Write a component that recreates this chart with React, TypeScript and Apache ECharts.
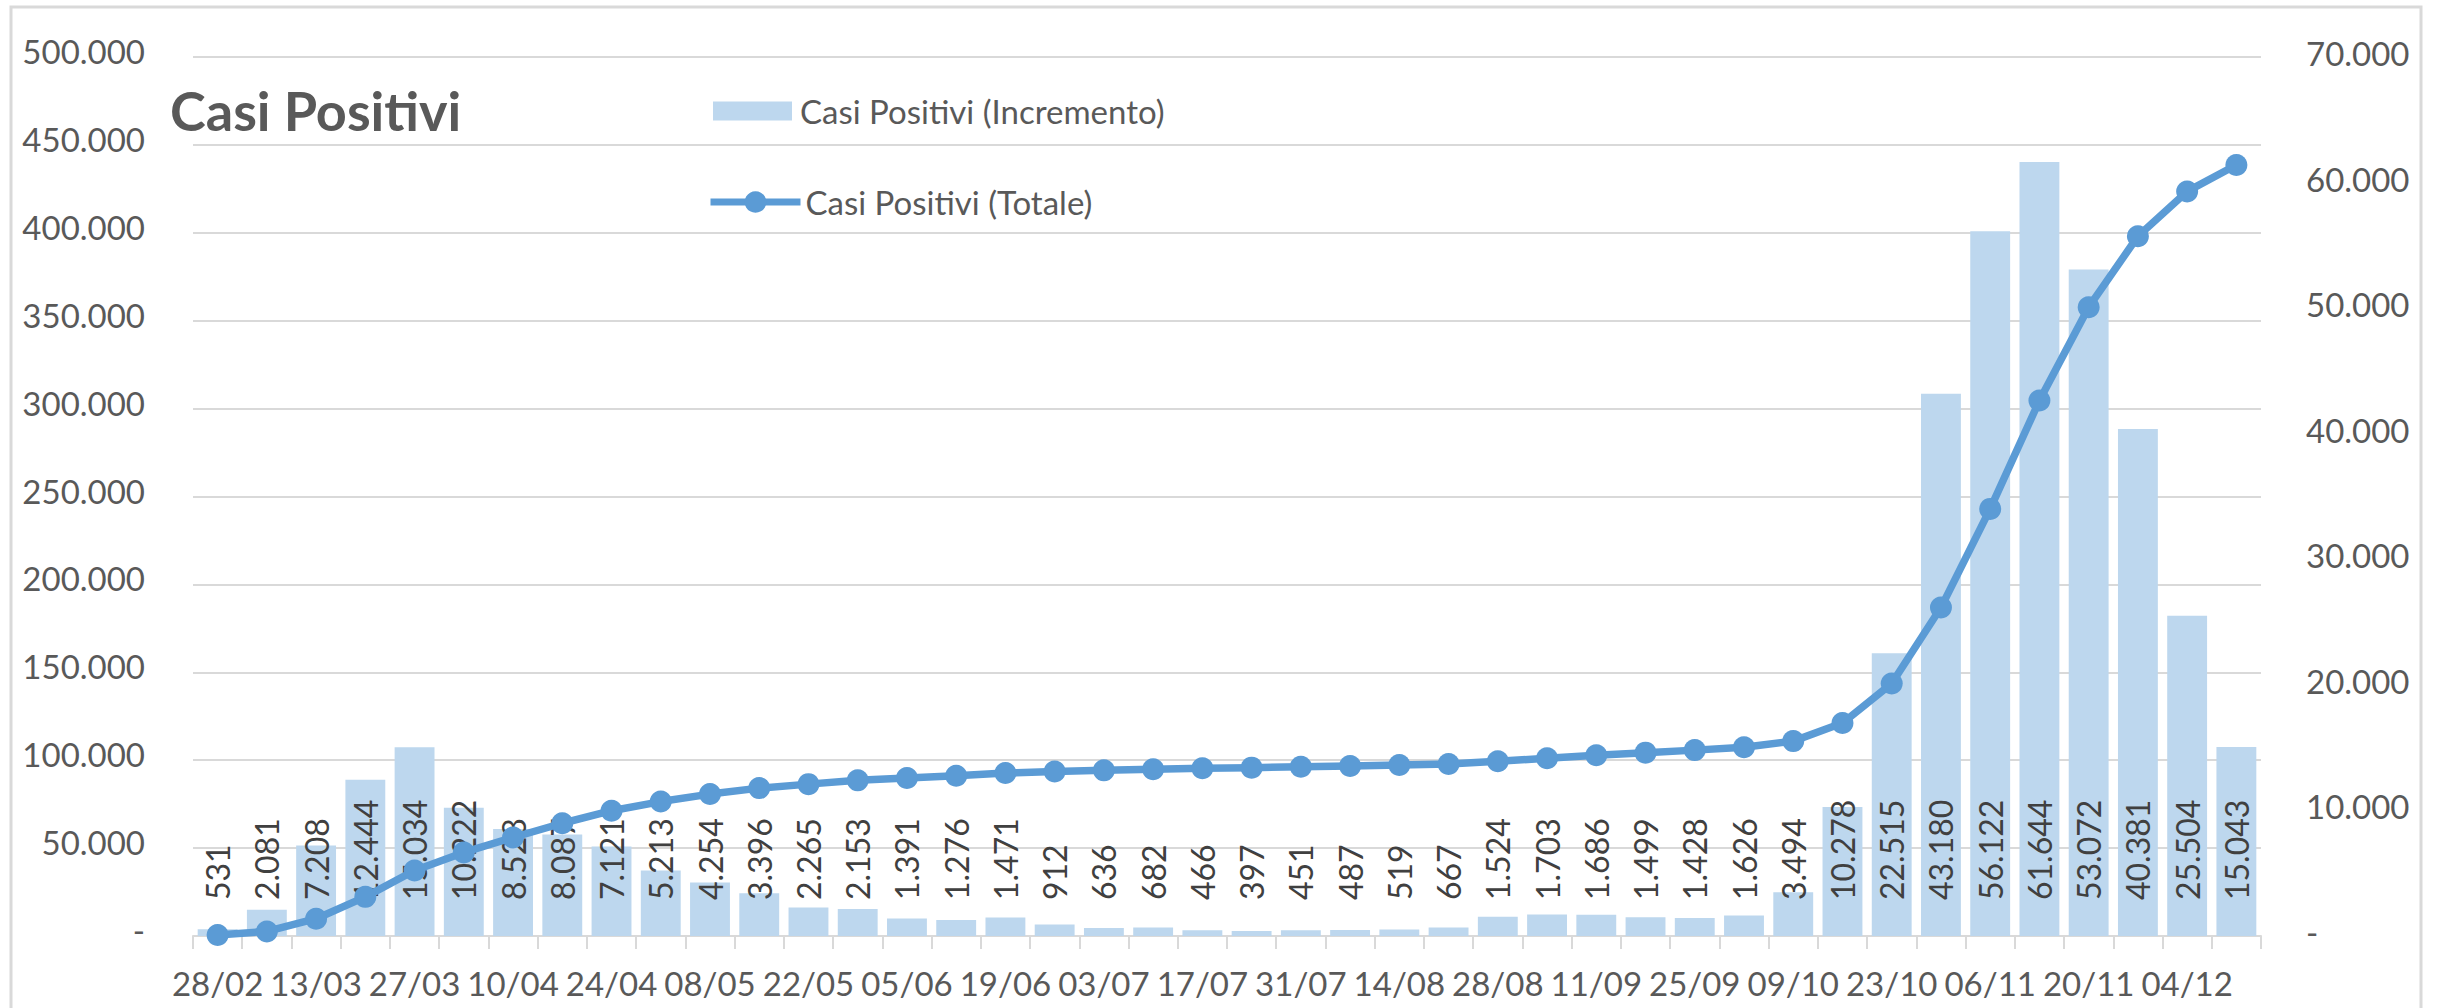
import React, { useEffect, useRef } from "react";
import * as echarts from "echarts";

const dates = [
  "28/02", "06/03", "13/03", "20/03", "27/03", "03/04", "10/04", "17/04", "24/04", "01/05",
  "08/05", "15/05", "22/05", "29/05", "05/06", "12/06", "19/06", "26/06", "03/07", "10/07",
  "17/07", "24/07", "31/07", "07/08", "14/08", "21/08", "28/08", "04/09", "11/09", "18/09",
  "25/09", "02/10", "09/10", "16/10", "23/10", "30/10", "06/11", "13/11", "20/11", "27/11",
  "04/12", "11/12",
];

const incremento = [
  531, 2081, 7208, 12444, 15034, 10222, 8528, 8087, 7121, 5213,
  4254, 3396, 2265, 2153, 1391, 1276, 1471, 912, 636, 682,
  466, 397, 451, 487, 519, 667, 1524, 1703, 1686, 1499,
  1428, 1626, 3494, 10278, 22515, 43180, 56122, 61644, 53072, 40381,
  25504, 15043,
];

const totale = [
  531, 2612, 9820, 22264, 37298, 47520, 56048, 64135, 71256, 76469,
  80723, 84119, 86384, 88537, 89928, 91204, 92675, 93587, 94223, 94905,
  95371, 95768, 96219, 96706, 97225, 97892, 99416, 101119, 102805, 104304,
  105732, 107358, 110852, 121130, 143645, 186825, 242947, 304591, 357663, 398044,
  423548, 438591,
];

const seriesNames = ["Casi Positivi (Incremento)", "Casi Positivi (Totale)"];
const titleText = "Casi Positivi";

const fmt = (v: number) =>
  v === 0 ? "-" : Math.round(v).toString().replace(/\B(?=(\d{3})+(?!\d))/g, ".");

const FONT = "Lato";
const TEXT = "#595959";
const GRID = "#D9D9D9";

export default function App() {
  const ref = useRef<HTMLDivElement>(null);

  useEffect(() => {
    if (!ref.current) return;
    const chart = echarts.init(ref.current, null, { renderer: "svg" });
    chart.setOption({
      animation: false,
      backgroundColor: "#ffffff",
      title: {
        text: titleText,
        left: 170,
        top: 83,
        padding: 0,
        textStyle: { fontFamily: FONT, fontWeight: "bold", fontSize: 54, color: TEXT },
      },
      legend: [
        {
          data: [seriesNames[0]],
          left: 713,
          top: 93,
          padding: 0,
          icon: "rect",
          itemWidth: 79,
          itemHeight: 19,
          textStyle: { fontFamily: FONT, fontSize: 33, color: TEXT, lineHeight: 36, padding: [0, 0, 0, 3] },
        },
        {
          data: [seriesNames[1]],
          left: 707,
          top: 184,
          padding: 0,
          itemWidth: 90,
          itemHeight: 27,
          lineStyle: { width: 7 },
          textStyle: { fontFamily: FONT, fontSize: 33, color: TEXT, lineHeight: 36 },
        },
      ],
      grid: { left: 193, right: 177, top: 57, bottom: 72, containLabel: false },
      xAxis: {
        type: "category",
        data: dates,
        boundaryGap: true,
        axisLine: { lineStyle: { color: GRID, width: 2 } },
        axisTick: { show: true, interval: 0, length: 13, lineStyle: { color: GRID, width: 2 } },
        axisLabel: { interval: 1, color: TEXT, fontFamily: FONT, fontSize: 33, margin: 30 },
      },
      yAxis: [
        {
          type: "value",
          position: "left",
          min: 0,
          max: 500000,
          interval: 50000,
          axisLine: { show: false },
          axisTick: { show: false },
          splitLine: { show: true, lineStyle: { color: GRID, width: 2 } },
          axisLabel: {
            formatter: (v: number) => fmt(v),
            color: TEXT,
            fontFamily: FONT,
            fontSize: 33,
            margin: 48,
            verticalAlign: "bottom",
            lineHeight: 12,
          },
        },
        {
          type: "value",
          position: "right",
          min: 0,
          max: 70000,
          interval: 10000,
          axisLine: { show: false },
          axisTick: { show: false },
          splitLine: { show: false },
          axisLabel: {
            formatter: (v: number) => fmt(v),
            color: TEXT,
            fontFamily: FONT,
            fontSize: 33,
            margin: 45,
            verticalAlign: "bottom",
            lineHeight: 8,
          },
        },
      ],
      series: [
        {
          type: "bar",
          name: seriesNames[0],
          yAxisIndex: 1,
          data: incremento,
          barCategoryGap: "19%",
          itemStyle: { color: "#BDD7EE" },
          label: {
            show: true,
            position: "insideBottom",
            rotate: 90,
            align: "left",
            verticalAlign: "middle",
            distance: 36,
            formatter: (p: any) => fmt(p.value),
            color: "#404040",
            fontFamily: FONT,
            fontSize: 32,
          },
        },
        {
          type: "line",
          name: seriesNames[1],
          yAxisIndex: 0,
          data: totale,
          symbol: "circle",
          symbolSize: 22,
          showAllSymbol: true,
          lineStyle: { color: "#5B9BD5", width: 7.5, join: "round" },
          itemStyle: { color: "#5B9BD5" },
          z: 3,
        },
      ],
      graphic: [
        {
          type: "rect",
          silent: true,
          shape: { x: 11, y: 7, width: 2410, height: 1010 },
          style: { fill: "none", stroke: GRID, lineWidth: 3 },
        },
      ],
    });
    return () => chart.dispose();
  }, []);

  return (
    <div
      ref={ref}
      style={{ position: "fixed", left: 0, top: 0, width: 2438, height: 1008, background: "#fff" }}
    />
  );
}
